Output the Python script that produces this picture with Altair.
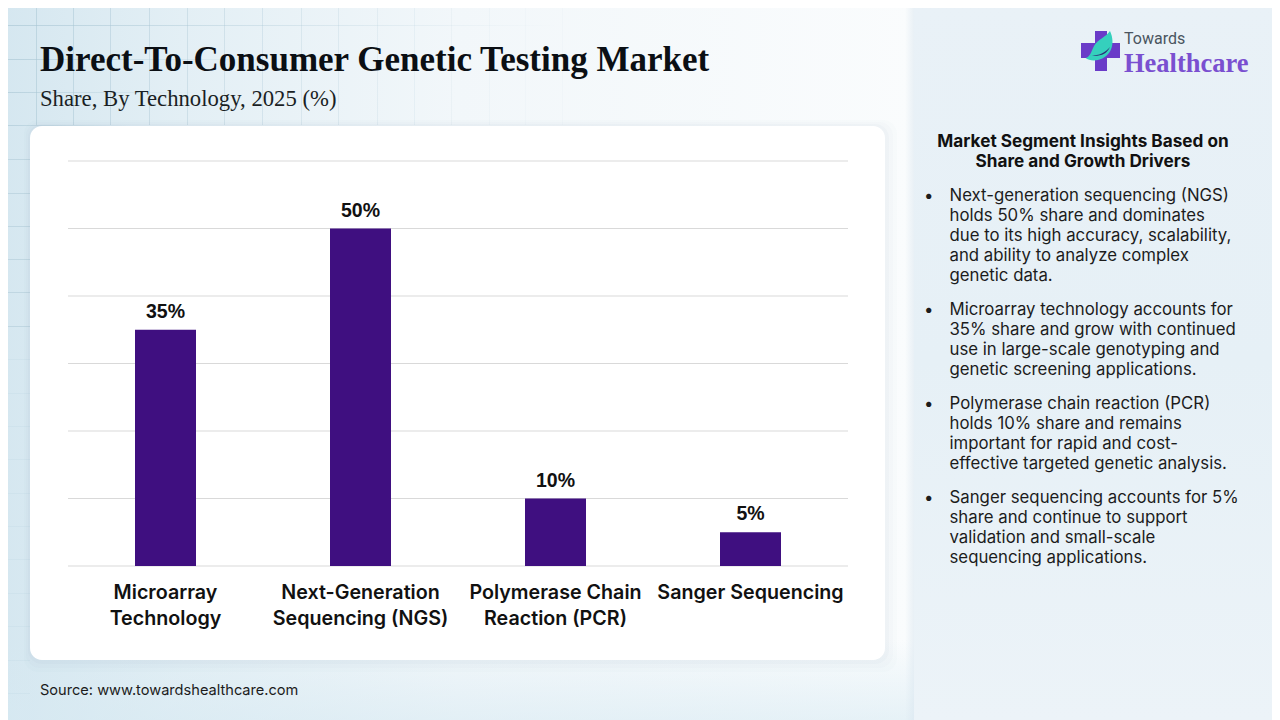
import altair as alt
import pandas as pd

# chart values
categories = ["Microarray|Technology", "Next-Generation|Sequencing (NGS)",
              "Polymerase Chain|Reaction (PCR)", "Sanger Sequencing"]
shares = [35, 50, 10, 5]
share_labels = ["35%", "50%", "10%", "5%"]
y_ticks = [0, 10, 20, 30, 40, 50, 60]

title_text = "Direct-To-Consumer Genetic Testing Market"
subtitle_text = "Share, By Technology, 2025 (%)"
source_text = "Source: www.towardshealthcare.com"
side_heading = "Market Segment Insights Based on\nShare and Growth Drivers"
side_points = [
    "Next-generation sequencing (NGS)\nholds 50% share and dominates\ndue to its high accuracy, scalability,\nand ability to analyze complex\ngenetic data.",
    "Microarray technology accounts for\n35% share and grow with continued\nuse in large-scale genotyping and\ngenetic screening applications.",
    "Polymerase chain reaction (PCR)\nholds 10% share and remains\nimportant for rapid and cost-\neffective targeted genetic analysis.",
    "Sanger sequencing accounts for 5%\nshare and continue to support\nvalidation and small-scale\nsequencing applications.",
]
side_y = [195.5, 309.5, 403.5, 497.5]

# plot area position in the picture
X0, Y0 = 68, 161
one = pd.DataFrame({"a": [0]})


def rect(x, x2, y, y2, color, opacity=1, radius=0):
    return alt.Chart(one).mark_rect(color=color, opacity=opacity, cornerRadius=radius).encode(
        x=alt.value(x - X0), x2=alt.value(x2 - X0), y=alt.value(y - Y0), y2=alt.value(y2 - Y0))


def label(s, x, y, size, font="Liberation Sans", weight="normal", color="#111111", align="left", line=20):
    d = pd.DataFrame({"t": [s]})
    return alt.Chart(d).mark_text(font=font, fontSize=size, fontWeight=weight, color=color, align=align,
                                  baseline="middle", lineBreak="\n", lineHeight=line).encode(
        x=alt.value(x - X0), y=alt.value(y - Y0), text="t:N")


def fade(stops, **kw):
    return alt.Gradient(gradient="linear", stops=[alt.GradientStop(color=c, offset=o) for o, c in stops], **kw)


layers = []

# page background
layers.append(rect(0, 915, 0, 720, fade([(0, "#d5e7f0"), (0.2, "#e3eff5"), (0.5, "#f2f7fa"), (1, "#fafcfd")],
                                        x1=0, x2=1, y1=0, y2=0)))
layers.append(rect(0, 915, 640, 720, fade([(0, "rgba(214,233,242,0)"), (1, "rgba(214,233,242,0.55)")],
                                          x1=0, x2=0, y1=0, y2=1)))

# faint squared paper
for i, x in enumerate([36, 73, 110, 149, 187, 224, 262, 301, 338, 377, 414, 451, 489, 525, 562]):
    layers.append(rect(x, x + 1, 0, 125, "#a9c6d4", max(0.55 - i * 0.04, 0.05)))
for y, x2 in [(25, 560), (59, 300), (92, 200), (125, 130)]:
    layers.append(rect(0, x2, y, y + 1, fade([(0, "rgba(169,198,212,0.65)"), (1, "rgba(169,198,212,0)")],
                                             x1=0, x2=1, y1=0, y2=0)))
for y in [159, 193, 226, 259, 292, 326, 359, 393, 426, 459, 493, 526, 559, 593, 626, 660, 693]:
    layers.append(rect(0, 30, y, y + 1, "#a9c6d4", 0.5 if y < 340 else 0.15))

# side panel
layers.append(rect(905, 914, 0, 720, fade([(0, "rgba(215,228,238,0)"), (1, "rgba(215,228,238,0.5)")],
                                          x1=0, x2=1, y1=0, y2=0)))
layers.append(rect(914, 1280, 0, 720, fade([(0, "#e9f1f7"), (0.5, "#e6f0f6"), (1, "#ecf3f8")],
                                           x1=0, x2=0, y1=0, y2=1)))

# card with soft shadow
for grow, op in [(12, 0.02), (8, 0.025), (4, 0.03)]:
    layers.append(rect(30 - grow // 2, 885 + grow, 126 - grow // 2, 660 + grow, "#6f8a99", op, 14))
layers.append(rect(30, 885, 126, 660, "#ffffff", 1, 12))

# chart proper
y_enc = alt.Y("v:Q", scale=alt.Scale(domain=[0, 60]), axis=None)
grid = alt.Chart(pd.DataFrame({"v": y_ticks})).mark_rule(color="#d9d9d9", strokeWidth=1).encode(y=y_enc)

bars_df = pd.DataFrame({"cat": categories, "v": shares, "lab": share_labels})
x_enc = alt.X("cat:N", sort=categories, scale=alt.Scale(domain=categories, padding=0),
              axis=alt.Axis(title=None, domain=False, ticks=False, grid=False, labelAngle=0, zindex=1,
                            labelExpr="split(datum.label, '|')", labelFont="Inter", labelFontSize=19.7,
                            labelFontWeight=600, labelColor="#111111", labelPadding=16.5, labelLineHeight=26,
                            labelLimit=0))
bars = alt.Chart(bars_df).mark_bar(color="#3f0f80", size=61).encode(x=x_enc, y=y_enc)
bar_labels = alt.Chart(bars_df).mark_text(font="Liberation Sans", fontSize=19.5, fontWeight="bold", color="#111111",
                                          baseline="middle", align="center", dy=-18).encode(
    x=x_enc, y=y_enc, text="lab:N")
layers += [grid, bars, bar_labels]

# headings
layers.append(label(title_text, 40, 60, 35, "Liberation Serif", "bold", "#0b0f14"))
layers.append(label(subtitle_text, 40, 99, 22.7, "Liberation Serif", "normal", "#1a1f24"))
layers.append(label(source_text, 40, 690.5, 14.6, "Inter", "normal", "#1c1c1c"))

# side text
layers.append(label(side_heading, 1083, 141.5, 17.2, "Inter", 700, "#111111", "center"))
for text, y in zip(side_points, side_y):
    layers.append(label("•", 924, y, 16.8, "Inter", "normal", "#1c1c1c"))
    layers.append(label(text, 949.5, y, 16.8, "Inter", "normal", "#1c1c1c"))

# logo
layers.append(rect(1081, 1120, 43, 58, "#6a3bc8"))
layers.append(rect(1095, 1107, 31, 71, "#6a3bc8"))
leaf = "M0.5,-0.85 C0.8,-0.2 0.55,0.45 -0.1,0.6 C-0.35,0.66 -0.6,0.6 -0.72,0.5 C-0.5,0.45 -0.45,0.2 -0.3,-0.1 C-0.1,-0.45 0.3,-0.55 0.5,-0.85 Z"
stripe = "M0.5,-0.05 C0.35,0.3 0,0.45 -0.5,0.38 C-0.1,0.4 0.25,0.25 0.5,-0.05 Z"
layers.append(alt.Chart(one).mark_point(shape=leaf, filled=True, color="#35d0bd", opacity=1, size=1600).encode(
    x=alt.value(1100 - X0), y=alt.value(48 - Y0)))
layers.append(alt.Chart(one).mark_point(shape=stripe, filled=True, color="#2b2f78", opacity=1, size=1600).encode(
    x=alt.value(1100 - X0), y=alt.value(48 - Y0)))
layers.append(label("Towards", 1124, 39, 16, "Roboto", "normal", "#4a5560"))
layers.append(label("Healthcare", 1124, 64, 26.5, "Liberation Serif", "bold", "#7a4fd0"))

# svg is held to the 1264px body width, so the padding adds up to that
chart = alt.layer(*layers).properties(
    width=780, height=405,
    autosize=alt.AutoSizeParams(type="none"),
    padding={"left": X0 - 8, "top": Y0 - 8, "right": 1264 - (X0 - 8) - 780, "bottom": 712 - (Y0 - 8) - 405},
    background="#e4eff5",
).configure_view(strokeWidth=0)

chart.save("out.html", embed_options={"renderer": "svg", "actions": False})
